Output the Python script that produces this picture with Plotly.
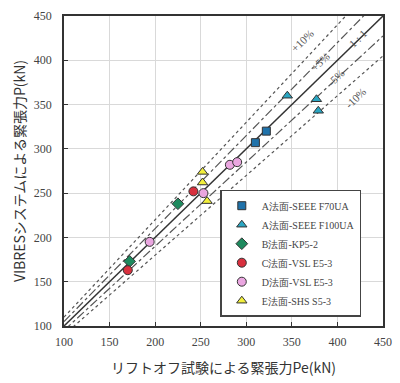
import plotly.graph_objects as go

# Data (Pe, P)
a70_x = [310, 322]
a70_y = [307, 320]
a100_x = [345, 377, 379]
a100_y = [360, 356, 343]
b_x = [172, 225]
b_y = [173, 238]
c_x = [170, 242]
c_y = [163, 252]
d_x = [194, 253, 282, 290]
d_y = [195, 250, 282, 285]
e_x = [252, 252, 257]
e_y = [274, 262, 241]

ref_x = [100, 450]
ratios = [1.0, 1.05, 0.95, 1.10, 0.90]
ratio_labels = ["1 : 1", "+5%", "-5%", "+10%", "-10%"]
label_pos = [(423, 425), (381, 398), (398, 380), (361, 422), (420, 357)]

ticks = [100, 150, 200, 250, 300, 350, 400, 450]

fig = go.Figure()

styles = {1.0: dict(color="#333333", width=1.5, dash="solid"),
          1.05: dict(color="#555555", width=1.2, dash="dashdot"),
          0.95: dict(color="#555555", width=1.2, dash="dashdot"),
          1.10: dict(color="#555555", width=1.2, dash="dot"),
          0.90: dict(color="#555555", width=1.2, dash="dot")}
for r in ratios:
    fig.add_trace(go.Scatter(x=ref_x, y=[v * r for v in ref_x], mode="lines",
                             line=styles[r], showlegend=False, hoverinfo="skip"))

series = [
    ("A法面-SEEE F70UA", a70_x, a70_y, "square", "#1f72aa", 8),
    ("A法面-SEEE F100UA", a100_x, a100_y, "triangle-up", "#2aa6c2", 9),
    ("B法面-KP5-2", b_x, b_y, "diamond", "#1e8a5e", 9),
    ("C法面-VSL E5-3", c_x, c_y, "circle", "#d8303e", 9),
    ("D法面-VSL E5-3", d_x, d_y, "circle", "#eaa6e0", 9),
    ("E法面-SHS S5-3", e_x, e_y, "triangle-up", "#f2ef3c", 9),
]
for name, xs, ys, sym, col, sz in series:
    fig.add_trace(go.Scatter(x=xs, y=ys, mode="markers", name=name,
                             marker=dict(symbol=sym, size=sz, color=col,
                                         line=dict(color="#333333", width=1))))

for lab, (lx, ly) in zip(ratio_labels, label_pos):
    fig.add_annotation(x=lx, y=ly, text=lab, showarrow=False, textangle=-44,
                       font=dict(family="Liberation Serif", size=11, color="#555555"))

axis_common = dict(range=[100, 450], tickvals=ticks, showgrid=True,
                   gridcolor="#d9d9d9", gridwidth=1, zeroline=False,
                   showline=True, linecolor="#333333", linewidth=1.5, mirror=True,
                   ticks="inside", ticklen=4, tickcolor="#333333", automargin=False,
                   tickfont=dict(family="Liberation Serif", size=12, color="#444444"))

fig.update_layout(
    width=400, height=383,
    margin=dict(l=64, r=17, t=16, b=57),
    plot_bgcolor="white", paper_bgcolor="white",
    xaxis=dict(**axis_common, ticklabelstandoff=4,
               title=dict(text="リフトオフ試験による緊張力Pe(kN)",
                          font=dict(family="Noto Sans CJK JP", size=14, color="#333333"))),
    yaxis=dict(**axis_common, ticklabelstandoff=8,
               title=dict(text="VIBRESシステムによる緊張力P(kN)", standoff=5,
                          font=dict(family="Noto Sans CJK JP", size=14, color="#333333"))),
    legend=dict(x=0.49, y=0.03, xanchor="left", yanchor="bottom",
                bgcolor="white", bordercolor="#444444", borderwidth=1.5,
                font=dict(family="Liberation Serif", size=10, color="#444444"),
                itemsizing="trace", tracegroupgap=0, itemwidth=30),
    showlegend=True,
)

fig.write_html("out.html", config={"displayModeBar": False},
               post_script="document.body.style.margin='0';document.body.style.overflow='hidden';")
